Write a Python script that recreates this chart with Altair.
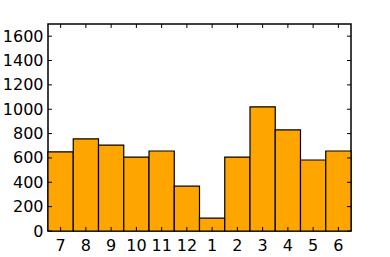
import altair as alt
import pandas as pd

months = ["7", "8", "9", "10", "11", "12", "1", "2", "3", "4", "5", "6"]
counts = [650, 756, 706, 607, 657, 368, 105, 607, 1020, 830, 583, 657]
y_ticks = [0, 200, 400, 600, 800, 1000, 1200, 1400, 1600]

df = pd.DataFrame({"month": months, "value": counts})
tdf = pd.DataFrame({"value": y_ticks})

W, H = 303, 207
FONT = "DejaVu Sans"

xenc = alt.X("month:N", sort=months,
             scale=alt.Scale(paddingInner=0, paddingOuter=0),
             axis=alt.Axis(title="", labelAngle=0, ticks=False, domain=False,
                           labelFont=FONT, labelFontSize=16, labelColor="black",
                           labelPadding=6, labelOverlap=False))
yscale = alt.Scale(domain=[0, 1700], nice=False, zero=True)
yenc = alt.Y("value:Q", scale=yscale,
             axis=alt.Axis(title="", values=y_ticks, ticks=False, domain=False,
                           grid=False, labelFont=FONT, labelFontSize=16, format="d",
                           labelColor="black", labelPadding=5, labelBaseline="middle",
                           labelOverlap=False, labelFlush=False))

bars = alt.Chart(df).mark_bar(color="#FFA500", stroke="black", strokeWidth=1.2).encode(
    x=xenc, y=yenc)

tick_bottom = alt.Chart(df).mark_rule(color="black", strokeWidth=1).encode(
    x=xenc, y=alt.value(H), y2=alt.value(H - 4))
tick_top = alt.Chart(df).mark_rule(color="black", strokeWidth=1).encode(
    x=xenc, y=alt.value(0), y2=alt.value(4))
tick_left = alt.Chart(tdf).mark_rule(color="black", strokeWidth=1).encode(
    y=yenc, x=alt.value(0), x2=alt.value(4))
tick_right = alt.Chart(tdf).mark_rule(color="black", strokeWidth=1).encode(
    y=yenc, x=alt.value(W - 4), x2=alt.value(W))

chart = alt.layer(bars, tick_bottom, tick_top, tick_left, tick_right).properties(
    width=W, height=H,
    padding={"left": 48, "top": 24, "right": 39, "bottom": 26},
    autosize=alt.AutoSizeParams(type="none"),
    background="white",
).configure_view(stroke="black", strokeWidth=1.5)

chart.save("out.html", embed_options={"renderer": "svg", "actions": False})
